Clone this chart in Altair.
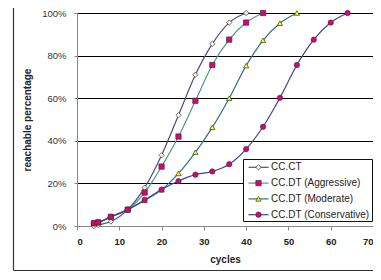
import altair as alt
import pandas as pd

cycles = [4, 5, 8, 12, 16, 20, 24, 28, 32, 36, 40, 44, 48, 52, 56, 60, 64]
series_names = ["CC.CT", "CC.DT (Aggressive)", "CC.DT (Moderate)", "CC.DT (Conservative)"]

cc_ct = [0.0, 0.5, 2.1, 7.7, 18.0, 33.2, 52.0, 71.0, 85.5, 95.5, 100.0]
cc_dt_aggressive = [1.3, 1.7, 4.3, 7.7, 15.7, 27.9, 42.0, 58.8, 75.6, 87.5, 95.5, 100.0]
cc_dt_moderate = [1.3, 1.7, 4.3, 7.7, 12.0, 17.0, 24.7, 34.6, 46.3, 60.0, 75.3, 87.2, 95.2, 100.0]
cc_dt_conservative = [1.3, 1.7, 4.3, 7.7, 12.3, 17.1, 21.1, 24.1, 25.6, 29.0, 36.1, 46.6, 60.2,
                      75.6, 87.5, 95.5, 100.0]

line_colors = ["#4a4a94", "#4f9a7c", "#2f6f90", "#42428f"]
marker_fills = ["#ffffcc", "#e0007a", "#ffff00", "#e0007a"]
marker_shapes = ["diamond", "square", "triangle-up", "circle"]

rows = []
for name, vals in zip(series_names, [cc_ct, cc_dt_aggressive, cc_dt_moderate, cc_dt_conservative]):
    for c, v in zip(cycles, vals):
        rows.append({"series": name, "cycles": c, "pct": v / 100.0})
df = pd.DataFrame(rows)

legend_df = pd.DataFrame({"series": series_names, "row": list(range(len(series_names)))})
one = pd.DataFrame({"a": [0]})

FONT = "Liberation Sans"
W, H = 296, 213

color_scale = alt.Scale(domain=series_names, range=line_colors)
fill_scale = alt.Scale(domain=series_names, range=marker_fills)
shape_scale = alt.Scale(domain=series_names, range=marker_shapes)

x_enc = alt.X("cycles:Q", scale=alt.Scale(domain=[0, 70], nice=False),
              axis=alt.Axis(values=list(range(0, 71, 10)), title="cycles", grid=False,
                            domainColor="#888", tickColor="#888", tickSize=4,
                            labelFontWeight="bold", labelFontSize=9.5, labelPadding=6,
                            labelColor="#222", labelFont=FONT, titleFont=FONT,
                            titleFontSize=10, titleFontWeight="bold", titlePadding=9,
                            titleColor="#222"))
y_enc = alt.Y("pct:Q", scale=alt.Scale(domain=[0, 1], nice=False),
              axis=alt.Axis(values=[0, 0.2, 0.4, 0.6, 0.8, 1.0], format=".0%",
                            title="reachable percentage", grid=True, gridColor="#000",
                            gridWidth=1, domainColor="#888", tickColor="#888", tickSize=3,
                            labelFontSize=9.5, labelPadding=8, labelColor="#333",
                            labelFont=FONT, titleFont=FONT, titleFontSize=10,
                            titleFontWeight="bold", titlePadding=9, titleColor="#222"))

lines = alt.Chart(df).mark_line(interpolate="monotone", strokeWidth=1.2).encode(
    x=x_enc, y=y_enc,
    color=alt.Color("series:N", scale=color_scale, legend=None),
    order=alt.Order("cycles:Q"),
)
points = alt.Chart(df).mark_point(filled=True, size=28, stroke="#333", strokeWidth=0.7,
                                  opacity=1).encode(
    x=alt.X("cycles:Q"), y=alt.Y("pct:Q"),
    fill=alt.Fill("series:N", scale=fill_scale, legend=None),
    shape=alt.Shape("series:N", scale=shape_scale, legend=None),
)
main = alt.layer(lines, points)

ly = alt.Y("row:Q", scale=alt.Scale(domain=[0, 3], range=[154.3, 201.7]), axis=None)
box = alt.Chart(one).mark_rect(fill="white", stroke="#111", strokeWidth=1).encode(
    x=alt.value(166.5), x2=alt.value(295.5), y=alt.value(146.5), y2=alt.value(208.5))
lrule = alt.Chart(legend_df).mark_rule(strokeWidth=1.2).encode(
    x=alt.value(171.5), x2=alt.value(191.5), y=ly,
    color=alt.Color("series:N", scale=color_scale, legend=None))
lpoint = alt.Chart(legend_df).mark_point(filled=True, size=28, stroke="#333", strokeWidth=0.7,
                                         opacity=1).encode(
    x=alt.value(181.5), y=ly,
    fill=alt.Fill("series:N", scale=fill_scale, legend=None),
    shape=alt.Shape("series:N", scale=shape_scale, legend=None))
ltext = alt.Chart(legend_df).mark_text(align="left", baseline="middle", fontSize=10,
                                       font=FONT, color="#222").encode(
    x=alt.value(194), y=ly, text="series:N")

# outer chart frame (left and bottom edges; the others fall outside the page)
frame_left = alt.Chart(one).mark_rule(color="#333", strokeWidth=1.2).encode(
    x=alt.value(-63.5), y=alt.value(-5), y2=alt.value(257.5))
frame_bottom = alt.Chart(one).mark_rule(color="#333", strokeWidth=1.2).encode(
    x=alt.value(-63.5), x2=alt.value(W + 5), y=alt.value(257.5))

chart = alt.layer(frame_left, frame_bottom, main, box, lrule, lpoint, ltext).resolve_scale(
    y="independent"
).properties(
    width=W, height=H,
    autosize=alt.AutoSizeParams(type="none"),
    padding={"left": 69, "top": 5, "right": 0, "bottom": 46},
    background="white",
).configure_view(stroke=None)

chart.save("out.html", embed_options={"renderer": "svg", "actions": False})
